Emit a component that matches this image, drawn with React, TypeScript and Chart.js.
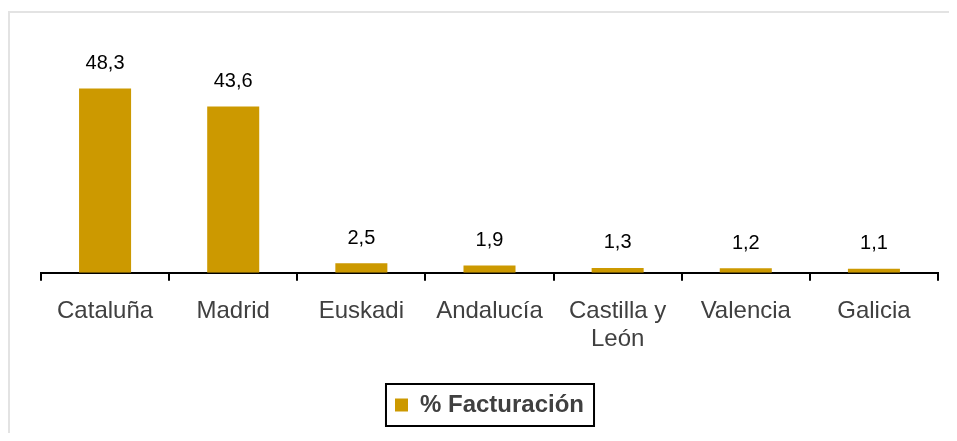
import React, { useEffect, useRef } from 'react';
import { Chart, registerables } from 'chart.js';

Chart.register(...registerables);

// ---- Data ----
const categories: (string | string[])[] = [
  'Cataluña',
  'Madrid',
  'Euskadi',
  'Andalucía',
  ['Castilla y', 'León'],
  'Valencia',
  'Galicia',
];
const seriesName = '% Facturación';
const facturacion = [48.3, 43.6, 2.5, 1.9, 1.3, 1.2, 1.1];
const yMin = 0;
const yMax = 60;

// ---- Style ----
const FONT = '"Liberation Sans", Arial, Helvetica, sans-serif';
const BAR_COLOR = '#CC9900';
const TEXT_GREY = '#404040';

export default function App() {
  const ref = useRef<HTMLCanvasElement>(null);

  useEffect(() => {
    if (!ref.current) return;

    const valueLabels = {
      id: 'valueLabels',
      afterDatasetsDraw(chart: any) {
        const ctx = chart.ctx;
        const meta = chart.getDatasetMeta(0);
        const data = chart.data.datasets[0].data as number[];
        ctx.save();
        ctx.font = `20px ${FONT}`;
        ctx.fillStyle = '#000000';
        ctx.textAlign = 'center';
        ctx.textBaseline = 'middle';
        meta.data.forEach((el: any, i: number) => {
          const v = data[i];
          ctx.fillText(v.toFixed(1).replace('.', ','), el.x, el.y - 25);
        });
        ctx.restore();
      },
    };

    const legendFrame = {
      id: 'legendFrame',
      afterDraw(chart: any) {
        const lg = chart.legend;
        if (!lg || !lg.legendHitBoxes || !lg.legendHitBoxes[0]) return;
        const hb = lg.legendHitBoxes[0];
        const ctx = chart.ctx;
        const cy = hb.top + hb.height / 2;
        ctx.save();
        ctx.strokeStyle = '#000000';
        ctx.lineWidth = 2;
        ctx.strokeRect(hb.left - 9, cy - 21, hb.width + 19, 42);
        ctx.restore();
      },
    };

    const chart = new Chart(ref.current, {
      type: 'bar',
      data: {
        labels: categories,
        datasets: [
          {
            label: seriesName,
            data: facturacion,
            backgroundColor: BAR_COLOR,
            borderWidth: 0,
            categoryPercentage: 1,
            barPercentage: 0.406,
          },
        ],
      },
      options: {
        responsive: false,
        animation: false,
        devicePixelRatio: 1,
        layout: {
          padding: { left: 31, right: 19, top: 31, bottom: 6 },
        },
        plugins: {
          tooltip: { enabled: false },
          legend: {
            display: true,
            position: 'bottom',
            labels: {
              boxWidth: 13,
              boxHeight: 13,
              padding: 24,
              color: TEXT_GREY,
              font: { family: FONT, size: 24, weight: 'bold' },
            },
          },
        },
        scales: {
          x: {
            offset: true,
            grid: {
              offset: true,
              display: true,
              drawOnChartArea: false,
              drawTicks: true,
              tickLength: 8,
              color: '#000000',
              lineWidth: 2,
            },
            border: { display: true, color: '#000000', width: 2 },
            ticks: {
              color: TEXT_GREY,
              padding: 16,
              maxRotation: 0,
              autoSkip: false,
              font: { family: FONT, size: 24, lineHeight: 1.17 },
            },
          },
          y: {
            display: false,
            min: yMin,
            max: yMax,
            grid: { display: false },
          },
        },
      },
      plugins: [valueLabels, legendFrame],
    });

    return () => chart.destroy();
  }, []);

  return (
    <div style={{ paddingTop: 3, marginRight: -8 }}>
      <div
        style={{
          borderTop: '2px solid #e3e3e3',
          borderLeft: '2px solid #e3e3e3',
        }}
      >
        <canvas ref={ref} width={947} height={420} style={{ display: 'block' }} />
      </div>
    </div>
  );
}
